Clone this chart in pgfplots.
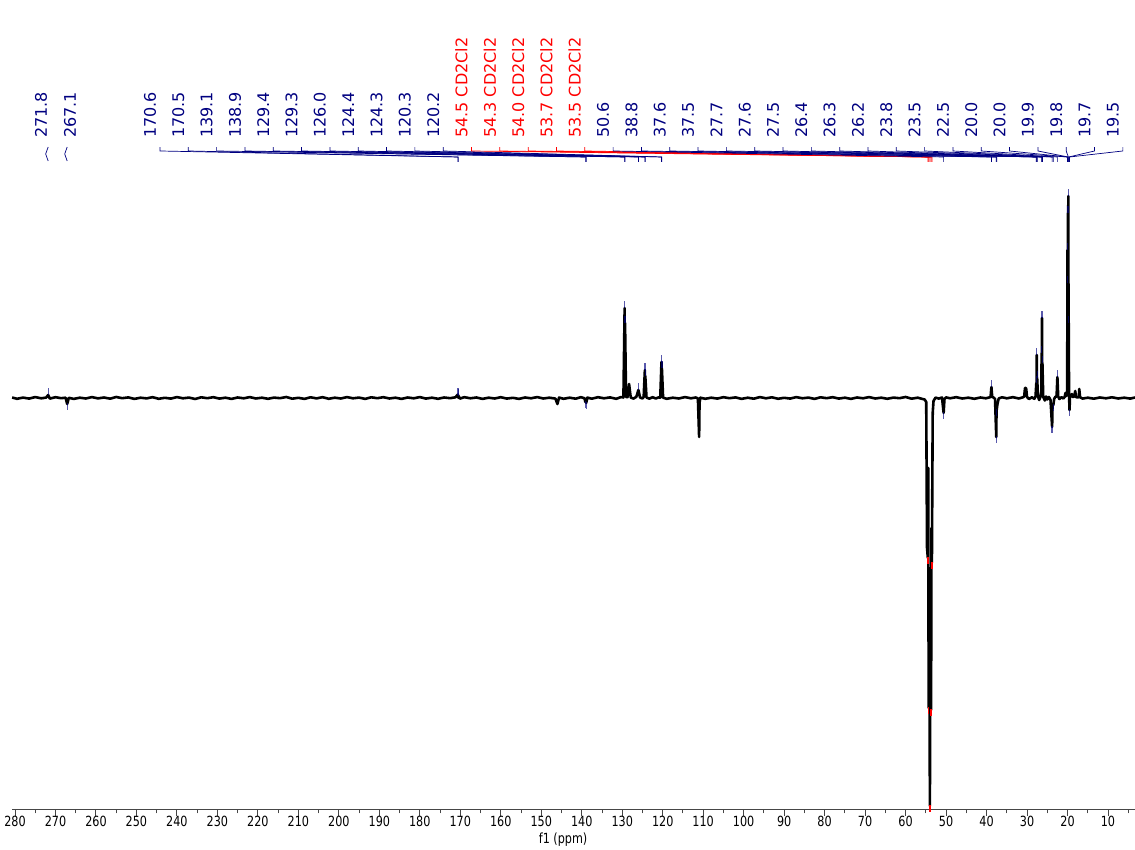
\documentclass[border=0pt]{standalone}
\usepackage{fontspec}
\setmainfont{DejaVu Sans}
\usepackage{pgfplots}
\usepackage{pgfplotstable}
\pgfplotsset{compat=1.18}

\definecolor{labnavy}{RGB}{0,0,128}
\definecolor{solvred}{RGB}{255,0,0}
\definecolor{axisgray}{RGB}{70,70,70}

% 13C spectrum: chemical shift (ppm) and intensity (arbitrary units)
\pgfplotstableread{
ppm int
280.7 0.5
279.5 -0.8
278 0.4
276.5 -0.6
275 0.9
273.5 -0.3
272.3 0.4
271.8 3
271.4 -0.6
270 0.8
268.6 -0.2
267.5 0.3
267.1 -6
266.7 0.2
265.5 -0.9
264 0.3
262.5 -0.5
261 0.9
259.5 -0.4
258 0.5
256.5 -0.7
255 1.0
253.5 -0.2
252 0.6
250.5 -0.9
249 0.3
247.5 -0.4
246 0.8
244.5 -0.8
243 0.2
241.5 -0.6
240 0.9
238.5 -0.3
237 0.4
235.5 -1.0
234 0.7
232.5 -0.2
231 0.8
229.5 -0.6
228 0.3
226.5 -0.9
225 0.5
223.5 -0.3
222 0.9
220.5 -0.5
219 0.3
217.5 -0.8
216 0.4
214.5 -0.2
213 1.0
211.5 -0.7
210 0.2
208.5 -0.9
207 0.7
205.5 -0.4
204 0.8
202.5 -0.8
201 0.3
199.5 -0.5
198 0.9
196.5 -0.3
195 0.4
193.5 -0.9
192 0.7
190.5 -0.2
189 0.8
187.5 -0.5
186 0.3
184.5 -0.9
183 0.5
181.5 -0.3
180 0.9
178.5 -0.6
177 0.3
175.5 -0.8
174 0.5
172.5 -0.2
171.2 0.7
170.6 3.5
170.55 0.5
170.5 2.5
170.1 -0.6
169 0.8
167.5 -0.3
166 0.5
164.5 -0.9
163 0.3
161.5 -0.5
160 0.8
158.5 -0.6
157 0.2
155.5 -0.9
154 0.5
152.5 -0.3
151 0.9
149.5 -0.5
148 0.3
146.5 -0.6
146.0 -6
145.6 0.4
144.5 -0.8
143 0.3
141.5 -0.7
140.2 0.8
139.3 -0.3
139.1 -4
139.0 -1
138.9 -5
138.6 0.4
137.5 -0.7
136 0.8
134.5 -0.3
133 0.6
131.5 -0.8
130.3 0.9
129.7 0.5
129.4 90
129.35 40
129.3 75
129.05 1
128.7 0.8
128.3 14
127.9 0.5
127.2 -0.6
126.5 1.2
126.0 8
125.6 0.6
125.0 -0.5
124.7 1
124.4 28
124.35 12
124.3 22
124.0 0.5
123.3 -0.7
122.5 0.8
121.7 -0.5
121.0 0.6
120.6 0.4
120.3 36
120.25 15
120.2 30
119.9 0.3
119 -0.8
117.5 0.3
116 -0.5
114.5 0.9
113 -0.3
111.8 0.5
111.3 -0.5
111.0 -39
110.9 -5
110.7 0.3
109.5 -0.8
108 0.3
106.5 -0.6
105 0.8
103.5 -0.2
102 0.6
100.5 -0.9
99 0.3
97.5 -0.7
96 0.9
94.5 -0.3
93 0.7
91.5 -0.8
90 0.2
88.5 -0.6
87 0.9
85.5 -0.3
84 0.4
82.5 -0.9
81 0.7
79.5 -0.2
78 0.8
76.5 -0.6
75 0.3
73.5 -0.9
72 0.5
70.5 -0.3
69 0.9
67.5 -0.5
66 0.3
64.5 -0.8
63 0.4
61.5 -0.2
60 1.0
58.5 -0.7
57 0.3
56 -0.8
55.3 -1.5
54.9 -4
54.7 -150
54.5 -160
54.4 -70
54.3 -310
54.15 -170
54.0 -408
53.85 -230
53.7 -312
53.6 -130
53.5 -165
53.3 -15
53.1 -3
52.6 0.4
51.8 -0.6
51.0 0.5
50.6 -15
50.4 -1
50.0 0.6
49 -0.3
47.5 0.8
46 -0.5
44.5 0.3
43 -0.8
41.5 0.5
40.2 -0.3
39.3 0.6
39.0 1
38.8 11
38.6 1
38.2 0.3
37.9 -1
37.6 -39
37.55 -18
37.5 -12
37.3 -6
37.0 -0.5
36.2 0.7
35 -0.3
33.5 0.8
32 -0.5
31 0.7
30.7 1.5
30.5 10
30.3 10
30.2 9
30.0 1
29.5 -1
28.8 0.7
28.2 -0.8
27.9 1.5
27.7 15
27.65 6
27.6 43
27.55 10
27.5 20
27.3 1.5
27.0 -2
26.7 1
26.45 6
26.4 45
26.35 20
26.3 80
26.25 30
26.2 35
26.0 1
25.6 -2.5
25.3 1.5
25.0 -1.5
24.6 1
24.2 -2
23.8 -29
23.7 -6
23.5 -7
23.3 -1
23.0 1.2
22.7 1.5
22.5 21
22.3 1.5
22.0 -1
21.5 0.8
21.0 -0.5
20.7 1.2
20.5 5
20.3 2
20.1 5
20.05 60
20.0 148
19.95 100
19.9 185
19.85 130
19.8 202
19.75 60
19.7 75
19.62 3
19.5 -12
19.4 1
19.1 2
18.9 4
18.7 1
18.3 1.5
18.1 7
17.9 1
17.5 0.5
17.2 1
17.1 9
16.9 0.8
16.3 -0.6
15 0.3
13.5 -0.7
12 0.5
10.5 -0.3
9 0.7
7.5 -0.5
6 0.3
4.5 -0.6
3.33 0.5
}\spectrum

% picked peaks (marker centre just beyond the peak tip)
\pgfplotstableread{
ppm int
271.8 6
267.1 -9
170.6 6
170.5 5
139.1 -7
138.9 -8
129.4 93
129.3 78
126.0 11
124.4 31
124.3 25
120.3 39
120.2 33
50.6 -18
38.8 14
37.6 -42
37.5 -15
27.7 18
27.6 46
27.5 23
26.4 48
26.3 83
26.2 38
23.8 -32
23.5 -10
22.5 24
20.0 151
20.0 118
19.9 188
19.8 205
19.7 78
19.5 -15
}\peaks

% solvent (CD2Cl2) quintet
\pgfplotstableread{
ppm int
54.5 -163
54.3 -313
54.0 -411
53.7 -315
53.5 -168
}\solvent

\begin{document}
\begin{tikzpicture}[
  lab/.style={font=\fontsize{16}{16}\selectfont, rotate=90, anchor=west, inner sep=0pt},
  conn/.style={line width=0.7pt}]
\useasboundingbox (-12pt,-40pt) rectangle (1123pt,810pt);
\begin{axis}[
  at={(0,0)}, anchor=south west,
  scale only axis, width=1123pt, height=640pt,
  xmin=3.33, xmax=280.74, x dir=reverse,
  ymin=-412, ymax=228,
  axis x line=bottom, axis y line=none,
  axis line style={-, draw=axisgray, line width=1pt},
  xtick={10,20,...,280},
  minor xtick={5,15,...,275},
  tick align=outside,
  major tick length=6pt, minor tick length=3.5pt,
  every tick/.style={draw=axisgray, line width=0.9pt},
  /pgf/number format/assume math mode=true,
  xticklabel style={font=\fontsize{14}{14}\selectfont, xscale=0.8, anchor=north, inner sep=0pt},
  xlabel={f1 (ppm)},
  xlabel style={font=\fontsize{14}{14}\selectfont, xscale=0.8, inner sep=0pt,
    at={(axis description cs:0.4907,0)}, anchor=north, yshift=-23pt},
  clip=false,
]
\addplot[black, line width=2.6pt, line join=round] table[x=ppm, y=int]{\spectrum};
\addplot[only marks, mark=|, mark size=3.5pt,
  mark options={draw=labnavy, line width=1.3pt, opacity=0.65}] table[x=ppm, y=int]{\peaks};
\addplot[only marks, mark=|, mark size=3.5pt,
  mark options={draw=solvred, line width=1.5pt}] table[x=ppm, y=int]{\solvent};

% isolated peak labels
\node[lab, text=labnavy] at (axis description cs:0.0258,1.05) {271.8};
\node[lab, text=labnavy] at (axis description cs:0.0516,1.05) {267.1};
\draw[conn, labnavy] (axis cs:271.8,251) -- ([xshift=-2.5pt]axis cs:271.8,244) -- (axis cs:271.8,237);
\draw[conn, labnavy] (axis cs:267.1,251) -- ([xshift=-2.5pt]axis cs:267.1,244) -- (axis cs:267.1,237);

% multiplet labels with connectors to their peaks
\foreach \i/\p/\lbl/\col in {
  0/170.6/170.6/labnavy, 1/170.5/170.5/labnavy, 2/139.1/139.1/labnavy,
  3/138.9/138.9/labnavy, 4/129.4/129.4/labnavy, 5/129.3/129.3/labnavy,
  6/126.0/126.0/labnavy, 7/124.4/124.4/labnavy, 8/124.3/124.3/labnavy,
  9/120.3/120.3/labnavy, 10/120.2/120.2/labnavy,
  11/54.5/54.5 CD2Cl2/solvred, 12/54.3/54.3 CD2Cl2/solvred,
  13/54.0/54.0 CD2Cl2/solvred, 14/53.7/53.7 CD2Cl2/solvred,
  15/53.5/53.5 CD2Cl2/solvred,
  16/50.6/50.6/labnavy, 17/38.8/38.8/labnavy, 18/37.6/37.6/labnavy,
  19/37.5/37.5/labnavy, 20/27.7/27.7/labnavy, 21/27.6/27.6/labnavy,
  22/27.5/27.5/labnavy, 23/26.4/26.4/labnavy, 24/26.3/26.3/labnavy,
  25/26.2/26.2/labnavy, 26/23.8/23.8/labnavy, 27/23.5/23.5/labnavy,
  28/22.5/22.5/labnavy, 29/20.0/20.0/labnavy, 30/20.0/20.0/labnavy,
  31/19.9/19.9/labnavy, 32/19.8/19.8/labnavy, 33/19.7/19.7/labnavy,
  34/19.5/19.5/labnavy}{
  \pgfmathsetmacro\fx{(148+28.32*\i)/1123}
  \pgfmathsetmacro\ft{(138+28.32*\i)/1123}
  \edef\temp{%
    \noexpand\draw[conn, \col] (axis description cs:\fx,1.0359)
      -- (axis description cs:\fx,1.0297) -- (axis cs:\p,241) -- (axis cs:\p,236);
    \noexpand\node[lab, text=\col] at (axis description cs:\ft,1.05) {\lbl};
  }\temp
}
\end{axis}
\end{tikzpicture}
\end{document}
